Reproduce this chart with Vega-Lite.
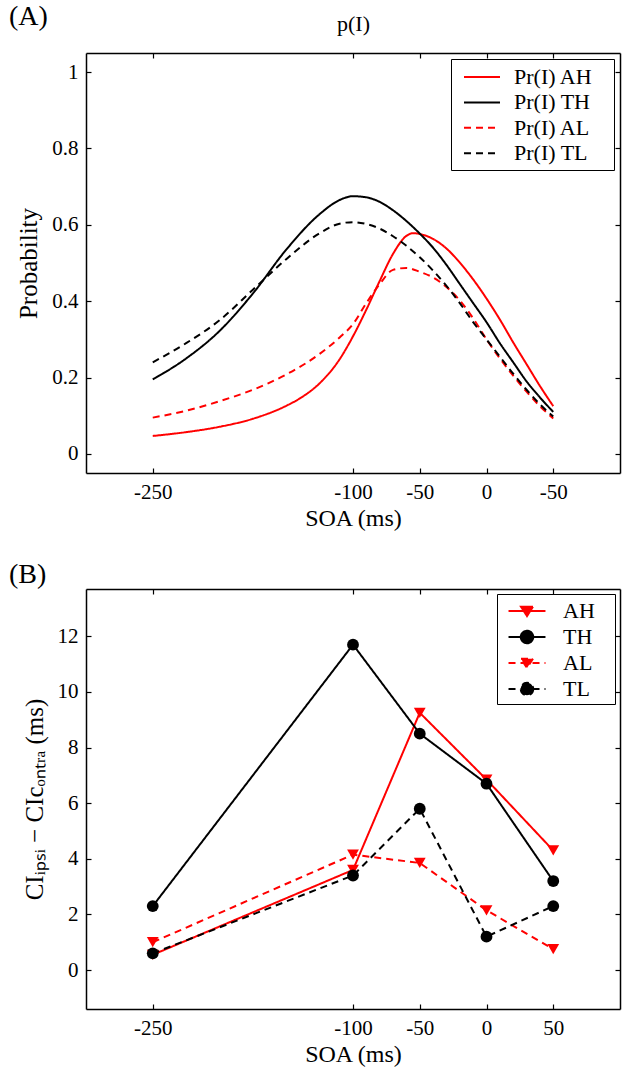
{
  "$schema": "https://vega.github.io/schema/vega-lite/v6.json",
  "background": "white",
  "padding": {"left": 9, "top": 3, "right": 1, "bottom": 1},
  "bounds": "flush",
  "spacing": 116,
  "resolve": {"scale": {"color": "independent", "strokeDash": "independent", "shape": "independent"}},
  "config": {
    "font": "Liberation Serif",
    "view": {"stroke": null},
    "axis": {"domainColor": "#000", "domainWidth": 1.5, "tickColor": "#000", "tickWidth": 1.2, "tickSize": -5, "labelPadding": 13, "labelFont": "Liberation Serif", "labelFontSize": 21, "labelColor": "#000", "titleFont": "Liberation Serif", "titleFontSize": 24, "titleFontWeight": "normal", "titleColor": "#000", "grid": false, "labelFlush": false, "labelOverlap": false},
    "title": {"font": "Liberation Serif", "fontWeight": "normal", "color": "#000"},
    "legend": {"labelFont": "Liberation Serif", "labelColor": "#000"}
  },
  "vconcat": [
    {
      "width": 534,
      "height": 420,
      "title": {"text": "(A)", "anchor": "start", "frame": "group", "dx": -77, "fontSize": 28, "baseline": "alphabetic", "offset": -41},
      "data": {"values": [
        {"s":"Pr(I) AH","soa":-250,"p":0.047},{"s":"Pr(I) AH","soa":-225,"p":0.057},{"s":"Pr(I) AH","soa":-200,"p":0.071},{"s":"Pr(I) AH","soa":-175,"p":0.092},{"s":"Pr(I) AH","soa":-150,"p":0.126},{"s":"Pr(I) AH","soa":-140,"p":0.145},{"s":"Pr(I) AH","soa":-125,"p":0.185},{"s":"Pr(I) AH","soa":-110,"p":0.248},{"s":"Pr(I) AH","soa":-100,"p":0.308},{"s":"Pr(I) AH","soa":-90,"p":0.378},{"s":"Pr(I) AH","soa":-80,"p":0.453},{"s":"Pr(I) AH","soa":-70,"p":0.524},{"s":"Pr(I) AH","soa":-60,"p":0.571},{"s":"Pr(I) AH","soa":-55,"p":0.578},{"s":"Pr(I) AH","soa":-50,"p":0.576},{"s":"Pr(I) AH","soa":-40,"p":0.563},{"s":"Pr(I) AH","soa":-30,"p":0.538},{"s":"Pr(I) AH","soa":-20,"p":0.501},{"s":"Pr(I) AH","soa":-10,"p":0.457},{"s":"Pr(I) AH","soa":0,"p":0.407},{"s":"Pr(I) AH","soa":10,"p":0.352},{"s":"Pr(I) AH","soa":20,"p":0.292},{"s":"Pr(I) AH","soa":30,"p":0.235},{"s":"Pr(I) AH","soa":40,"p":0.178},{"s":"Pr(I) AH","soa":50,"p":0.125},
        {"s":"Pr(I) TH","soa":-250,"p":0.195},{"s":"Pr(I) TH","soa":-225,"p":0.25},{"s":"Pr(I) TH","soa":-200,"p":0.322},{"s":"Pr(I) TH","soa":-175,"p":0.42},{"s":"Pr(I) TH","soa":-150,"p":0.535},{"s":"Pr(I) TH","soa":-125,"p":0.628},{"s":"Pr(I) TH","soa":-110,"p":0.665},{"s":"Pr(I) TH","soa":-100,"p":0.675},{"s":"Pr(I) TH","soa":-90,"p":0.672},{"s":"Pr(I) TH","soa":-80,"p":0.66},{"s":"Pr(I) TH","soa":-70,"p":0.638},{"s":"Pr(I) TH","soa":-60,"p":0.61},{"s":"Pr(I) TH","soa":-50,"p":0.577},{"s":"Pr(I) TH","soa":-40,"p":0.54},{"s":"Pr(I) TH","soa":-30,"p":0.495},{"s":"Pr(I) TH","soa":-20,"p":0.445},{"s":"Pr(I) TH","soa":-10,"p":0.395},{"s":"Pr(I) TH","soa":0,"p":0.345},{"s":"Pr(I) TH","soa":10,"p":0.29},{"s":"Pr(I) TH","soa":20,"p":0.24},{"s":"Pr(I) TH","soa":30,"p":0.19},{"s":"Pr(I) TH","soa":40,"p":0.148},{"s":"Pr(I) TH","soa":50,"p":0.11},
        {"s":"Pr(I) AL","soa":-250,"p":0.095},{"s":"Pr(I) AL","soa":-225,"p":0.113},{"s":"Pr(I) AL","soa":-200,"p":0.138},{"s":"Pr(I) AL","soa":-175,"p":0.168},{"s":"Pr(I) AL","soa":-150,"p":0.208},{"s":"Pr(I) AL","soa":-125,"p":0.262},{"s":"Pr(I) AL","soa":-110,"p":0.305},{"s":"Pr(I) AL","soa":-100,"p":0.34},{"s":"Pr(I) AL","soa":-90,"p":0.395},{"s":"Pr(I) AL","soa":-80,"p":0.445},{"s":"Pr(I) AL","soa":-70,"p":0.482},{"s":"Pr(I) AL","soa":-60,"p":0.487},{"s":"Pr(I) AL","soa":-50,"p":0.477},{"s":"Pr(I) AL","soa":-40,"p":0.462},{"s":"Pr(I) AL","soa":-30,"p":0.437},{"s":"Pr(I) AL","soa":-20,"p":0.402},{"s":"Pr(I) AL","soa":-10,"p":0.355},{"s":"Pr(I) AL","soa":0,"p":0.3},{"s":"Pr(I) AL","soa":10,"p":0.25},{"s":"Pr(I) AL","soa":20,"p":0.205},{"s":"Pr(I) AL","soa":30,"p":0.163},{"s":"Pr(I) AL","soa":40,"p":0.125},{"s":"Pr(I) AL","soa":50,"p":0.093},
        {"s":"Pr(I) TL","soa":-250,"p":0.24},{"s":"Pr(I) TL","soa":-225,"p":0.29},{"s":"Pr(I) TL","soa":-200,"p":0.35},{"s":"Pr(I) TL","soa":-175,"p":0.43},{"s":"Pr(I) TL","soa":-150,"p":0.51},{"s":"Pr(I) TL","soa":-125,"p":0.578},{"s":"Pr(I) TL","soa":-110,"p":0.603},{"s":"Pr(I) TL","soa":-100,"p":0.607},{"s":"Pr(I) TL","soa":-90,"p":0.602},{"s":"Pr(I) TL","soa":-80,"p":0.59},{"s":"Pr(I) TL","soa":-70,"p":0.57},{"s":"Pr(I) TL","soa":-60,"p":0.545},{"s":"Pr(I) TL","soa":-50,"p":0.515},{"s":"Pr(I) TL","soa":-40,"p":0.48},{"s":"Pr(I) TL","soa":-30,"p":0.44},{"s":"Pr(I) TL","soa":-20,"p":0.395},{"s":"Pr(I) TL","soa":-10,"p":0.345},{"s":"Pr(I) TL","soa":0,"p":0.3},{"s":"Pr(I) TL","soa":10,"p":0.255},{"s":"Pr(I) TL","soa":20,"p":0.21},{"s":"Pr(I) TL","soa":30,"p":0.168},{"s":"Pr(I) TL","soa":40,"p":0.13},{"s":"Pr(I) TL","soa":50,"p":0.098}
      ]},
      "layer": [
        {
          "mark": {"type": "line", "strokeWidth": 2, "interpolate": "monotone"},
          "encoding": {
            "x": {"field": "soa", "type": "quantitative", "scale": {"domain": [-300, 100], "nice": false, "zero": false},
                  "axis": {"values": [-250, -100, -50, 0, 50], "labelExpr": "datum.value == 50 ? '-50' : '' + datum.value", "title": "SOA (ms)", "titlePadding": 4}},
            "y": {"field": "p", "type": "quantitative", "scale": {"domain": [-0.05, 1.05], "nice": false, "zero": false},
                  "axis": {"values": [0, 0.2, 0.4, 0.6, 0.8, 1], "labelExpr": "'' + datum.value", "title": "Probability", "titleFontSize": 25, "titlePadding": 10}},
            "color": {"field": "s", "type": "nominal", "scale": {"domain": ["Pr(I) AH", "Pr(I) TH", "Pr(I) AL", "Pr(I) TL"], "range": ["#ff0000", "#000000", "#ff0000", "#000000"]},
                      "legend": {"orient": "top-right", "offset": 6, "title": null, "strokeColor": "#000", "fillColor": "white", "padding": 5, "symbolType": "M-1.5,0H1.5", "symbolSize": 576, "symbolStrokeWidth": 2, "symbolOffset": 13, "labelOffset": 19, "labelFontSize": 22, "rowPadding": 1.4,
                                 "labelExpr": "datum.label + '\u2800'"}},
            "strokeDash": {"field": "s", "type": "nominal", "scale": {"domain": ["Pr(I) AH", "Pr(I) TH", "Pr(I) AL", "Pr(I) TL"], "range": [[1, 0], [1, 0], [7, 5], [7, 5]]}, "legend": null}
          }
        },
        {
          "mark": {"type": "line", "opacity": 0},
          "encoding": {
            "x": {"field": "soa", "type": "quantitative", "scale": {"domain": [-300, 100], "nice": false, "zero": false},
                  "axis": {"orient": "top", "values": [-250, -100, -50, 0, 50], "labels": false, "title": "p(I)", "titleFontSize": 22, "titlePadding": 17}},
            "y": {"field": "p", "type": "quantitative", "scale": {"domain": [-0.05, 1.05], "nice": false, "zero": false},
                  "axis": {"orient": "right", "values": [0, 0.2, 0.4, 0.6, 0.8, 1], "labels": false, "title": null}},
            "detail": {"field": "s"}
          }
        }
      ],
      "resolve": {"axis": {"x": "independent", "y": "independent"}}
    },
    {
      "width": 534,
      "height": 420,
      "title": {"text": "(B)", "anchor": "start", "frame": "group", "dx": -77, "fontSize": 28, "baseline": "alphabetic", "offset": -23},
      "data": {"values": [
        {"s":"AH","m":"tri","soa":-250,"ci":0.55},{"s":"AH","m":"tri","soa":-100,"ci":3.6},{"s":"AH","m":"tri","soa":-50,"ci":9.25},{"s":"AH","m":"tri","soa":0,"ci":6.85},{"s":"AH","m":"tri","soa":50,"ci":4.3},
        {"s":"AL","m":"tri","soa":-250,"ci":1.0},{"s":"AL","m":"tri","soa":-100,"ci":4.15},{"s":"AL","m":"tri","soa":-50,"ci":3.85},{"s":"AL","m":"tri","soa":0,"ci":2.15},{"s":"AL","m":"tri","soa":50,"ci":0.75},
        {"s":"TH","m":"circ","soa":-250,"ci":2.3},{"s":"TH","m":"circ","soa":-100,"ci":11.7},{"s":"TH","m":"circ","soa":-50,"ci":8.5},{"s":"TH","m":"circ","soa":0,"ci":6.7},{"s":"TH","m":"circ","soa":50,"ci":3.2},
        {"s":"TL","m":"circ","soa":-250,"ci":0.6},{"s":"TL","m":"circ","soa":-100,"ci":3.4},{"s":"TL","m":"circ","soa":-50,"ci":5.8},{"s":"TL","m":"circ","soa":0,"ci":1.2},{"s":"TL","m":"circ","soa":50,"ci":2.3}
      ]},
      "layer": [
        {
          "mark": {"type": "line", "strokeWidth": 2},
          "encoding": {
            "x": {"field": "soa", "type": "quantitative", "scale": {"domain": [-300, 100], "nice": false, "zero": false},
                  "axis": {"values": [-250, -100, -50, 0, 50], "labelExpr": "'' + datum.value", "title": "SOA (ms)", "titlePadding": 4}},
            "y": {"field": "ci", "type": "quantitative", "scale": {"domain": [-1.4, 13.7], "nice": false, "zero": false},
                  "axis": {"values": [0, 2, 4, 6, 8, 10, 12], "labelExpr": "'' + datum.value", "title": "CIᵢₚₛᵢ − CIcₒₙₜᵣₐ (ms)", "titleFontSize": 25, "titlePadding": 10}},
            "color": {"field": "s", "type": "nominal", "scale": {"domain": ["AH", "TH", "AL", "TL"], "range": ["#ff0000", "#000000", "#ff0000", "#000000"]},
                      "legend": {"orient": "top-right", "offset": 5, "title": null, "strokeColor": "#000", "fillColor": "white", "padding": 4, "symbolSize": 576, "symbolStrokeWidth": 2, "symbolOffset": 13, "labelOffset": 23, "labelFontSize": 22, "rowPadding": 2,
                                 "encode": {
                                   "labels": {"update": {"text": {"signal": "datum.label + '\u2800'"}}},
                                   "symbols": {"update": {
                                   "shape": {"signal": "datum.value == 'AH' || datum.value == 'AL' ? 'M-1.54,0H1.54M-0.5,-0.36L0.5,-0.36L0,0.42Z' : 'M-1.54,0H1.54M0.52,0A0.52,0.52,0,1,1,-0.52,0A0.52,0.52,0,1,1,0.52,0Z'"},
                                   "stroke": {"signal": "datum.value == 'AH' || datum.value == 'AL' ? '#ff0000' : '#000000'"},
                                   "fill": {"signal": "datum.value == 'AH' || datum.value == 'AL' ? '#ff0000' : '#000000'"},
                                   "strokeDash": {"signal": "datum.value == 'AL' || datum.value == 'TL' ? [7.5, 4.5, 13, 4.5, 7.5, 40] : [1, 0]"},
                                   "strokeWidth": {"value": 2},
                                   "opacity": {"value": 1}, "fillOpacity": {"value": 1}, "strokeOpacity": {"value": 1}}}}}},
            "strokeDash": {"field": "s", "type": "nominal", "scale": {"domain": ["AH", "TH", "AL", "TL"], "range": [[1, 0], [1, 0], [7, 5], [7, 5]]}, "legend": null}
          }
        },
        {
          "mark": {"type": "point", "filled": true, "opacity": 1, "size": 140},
          "encoding": {
            "x": {"field": "soa", "type": "quantitative", "scale": {"domain": [-300, 100], "nice": false, "zero": false}, "axis": null},
            "y": {"field": "ci", "type": "quantitative", "scale": {"domain": [-1.4, 13.7], "nice": false, "zero": false}, "axis": null},
            "color": {"field": "s", "type": "nominal", "scale": {"domain": ["AH", "TH", "AL", "TL"], "range": ["#ff0000", "#000000", "#ff0000", "#000000"]}, "legend": null},
            "shape": {"field": "m", "type": "nominal", "scale": {"domain": ["tri", "circ"], "range": ["triangle-down", "circle"]}, "legend": null}
          }
        },
        {
          "mark": {"type": "line", "opacity": 0},
          "encoding": {
            "x": {"field": "soa", "type": "quantitative", "scale": {"domain": [-300, 100], "nice": false, "zero": false},
                  "axis": {"orient": "top", "values": [-250, -100, -50, 0, 50], "labels": false, "title": null}},
            "y": {"field": "ci", "type": "quantitative", "scale": {"domain": [-1.4, 13.7], "nice": false, "zero": false},
                  "axis": {"orient": "right", "values": [0, 2, 4, 6, 8, 10, 12], "labels": false, "title": null}},
            "detail": {"field": "s"}
          }
        }
      ],
      "resolve": {"axis": {"x": "independent", "y": "independent"}}
    }
  ]
}
